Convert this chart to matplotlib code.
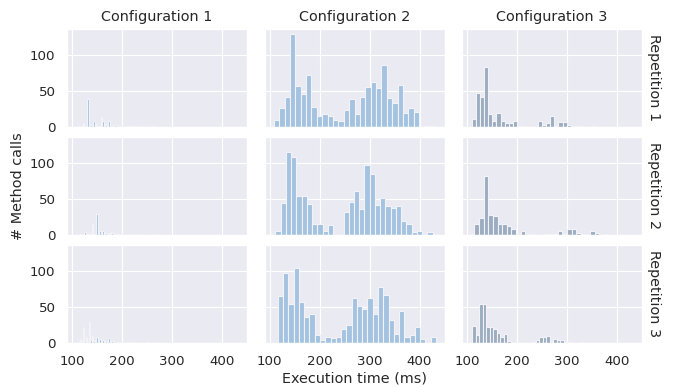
import numpy as np
import matplotlib
matplotlib.use("Agg")
import matplotlib.pyplot as plt
import seaborn as sns

sns.set_theme(style="darkgrid", context="paper")

configs = ["Configuration 1", "Configuration 2", "Configuration 3"]
repetitions = ["Repetition 1", "Repetition 2", "Repetition 3"]

# histogram counts per (configuration, repetition), with the time range (ms) the bins cover
c1_r1 = [0, 1, 5, 1, 2, 39, 2, 3, 1, 8, 5, 2, 1, 2, 14, 8, 2, 3, 1, 8, 2, 1, 1, 3, 1,
         1, 0, 1, 1, 0, 1, 1, 0, 1, 0, 1, 1, 0, 0, 1, 0, 1, 0, 0, 1, 0, 0, 1, 0, 1]
c1_r2 = [1, 0, 1, 4, 1, 2, 3, 1, 17, 2, 2, 29, 3, 5, 3, 6, 4, 3, 2, 2, 4, 3, 1, 1, 0,
         1, 2, 0, 1, 0, 1, 0, 1, 0, 1, 0, 0, 1, 0, 0, 1, 0, 0, 0, 1, 0, 0, 0, 0, 1]
c1_r3 = [5, 2, 22, 3, 8, 2, 29, 4, 11, 3, 5, 8, 3, 5, 2, 4, 2, 3, 1, 7, 1, 3, 1, 1, 0,
         1, 1, 0, 1, 0, 0, 1, 0, 1, 0, 0, 1, 0, 0, 0, 1, 0, 0, 0, 0, 1, 0, 0, 0, 1]
c1_range = (115, 265)

c2_r1 = [10, 26, 42, 130, 57, 46, 73, 28, 16, 18, 16, 10, 8, 23, 39,
         18, 42, 56, 63, 54, 86, 40, 33, 59, 19, 26, 21, 0, 2, 1]
c2_r1_range = (108.6, 431.4)
c2_r2 = [5, 45, 115, 109, 55, 54, 43, 16, 15, 5, 14, 0, 0, 32, 46,
         61, 36, 98, 85, 42, 51, 40, 37, 40, 19, 15, 4, 5, 0, 4]
c2_r2_range = (111.8, 426.2)
c2_r3 = [65, 98, 55, 105, 57, 36, 40, 11, 4, 9, 7, 9, 20, 25, 63,
         51, 48, 63, 40, 78, 67, 32, 12, 45, 9, 11, 22, 5, 0, 8]
c2_r3_range = (116.7, 433.0)

c3_r1 = [11, 48, 42, 83, 18, 8, 20, 8, 5, 6, 8, 1, 1, 0, 0,
         0, 9, 3, 6, 16, 2, 7, 7, 3, 2, 1, 1, 0, 0, 1]
c3_r1_range = (109.2, 357.3)
c3_r2 = [2, 15, 23, 82, 28, 26, 15, 15, 13, 8, 2, 5, 0, 2, 0,
         0, 2, 1, 2, 5, 2, 8, 8, 3, 2, 0, 5, 3, 0, 2]
c3_r2_range = (105.4, 383.5)
c3_r3 = [23, 11, 55, 55, 22, 22, 19, 14, 9, 12, 3, 0, 0, 1, 0, 0,
         0, 1, 4, 8, 8, 10, 2, 5, 4, 4, 2, 2, 0, 0, 0, 2]
c3_r3_range = (110.5, 335.5)

hists = [
    [(c1_r1, c1_range), (c2_r1, c2_r1_range), (c3_r1, c3_r1_range)],
    [(c1_r2, c1_range), (c2_r2, c2_r2_range), (c3_r2, c3_r2_range)],
    [(c1_r3, c1_range), (c2_r3, c2_r3_range), (c3_r3, c3_r3_range)],
]
colors = ["#a3c3e0", "#a3c3e0", "#9cadc1"]

fig, axes = plt.subplots(3, 3, sharex=True, sharey=True, figsize=(6.75, 3.87), dpi=100)
fig.subplots_adjust(left=67/675, right=642/675, top=1-29/387, bottom=1-343/387,
                    wspace=17.5/180, hspace=10/98)

for r in range(3):
    for c in range(3):
        ax = axes[r, c]
        counts, (lo, hi) = hists[r][c]
        edges = np.linspace(lo, hi, len(counts) + 1)
        ax.bar(edges[:-1], counts, width=np.diff(edges), align="edge",
               color=colors[c], edgecolor="#f2f2f7", linewidth=0.8)
        if r == 0:
            ax.set_title(configs[c], fontsize=10.4)
        if c == 2:
            ax.annotate(repetitions[r], xy=(1.03, 0.5), xycoords="axes fraction",
                        rotation=270, ha="left", va="center", fontsize=10.4)
        ax.tick_params(labelsize=9.6)

axes[0, 0].set_xlim(90, 450)
axes[0, 0].set_xticks([100, 200, 300, 400])
axes[0, 0].set_yticks([0, 50, 100])

fig.text((67 + 642) / 2 / 675, 1 - 378 / 387, "Execution time (ms)",
         ha="center", va="center", fontsize=10.4)
fig.text(18 / 675, 1 - 186 / 387, "# Method calls", rotation=90,
         ha="center", va="center", fontsize=10.4)

plt.savefig("out.png", dpi=100)
